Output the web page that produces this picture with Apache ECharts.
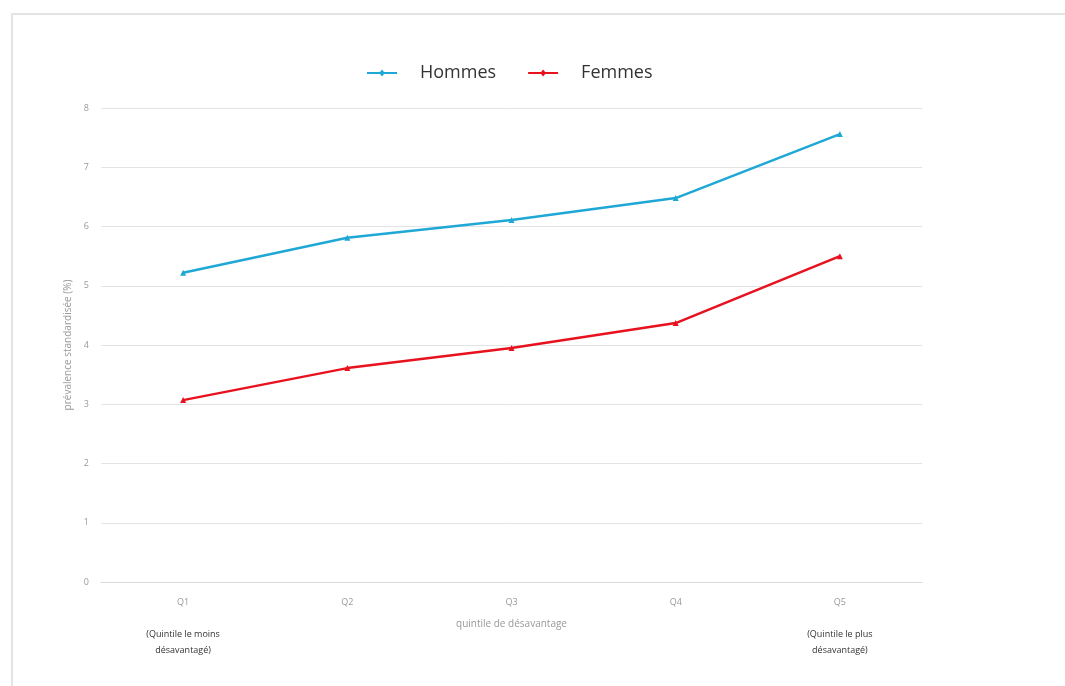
<!DOCTYPE html>
<html>
<head>
<meta charset="utf-8">
<script src="https://cdn.jsdelivr.net/npm/echarts@6/dist/echarts.min.js"></script>
<style>
html,body{margin:0;padding:0;background:#fff;}
#chart{width:1065px;height:686px;}
</style>
</head>
<body>
<div id="chart"></div>
<script>
const categories = ['Q1', 'Q2', 'Q3', 'Q4', 'Q5'];
const hommes = [5.22, 5.81, 6.11, 6.48, 7.56];
const femmes = [3.07, 3.61, 3.95, 4.37, 5.50];
const yTicks = [0, 1, 2, 3, 4, 5, 6, 7, 8];
const notes = {
  Q1: '(Quintile le moins\ndésavantagé)',
  Q5: '(Quintile le plus\ndésavantagé)'
};
const seriesNames = ['Hommes', 'Femmes'];
const colors = ['#1fa8d6', '#e8121e'];

const chart = echarts.init(document.getElementById('chart'), null, {renderer: 'canvas'});
chart.setOption({
  animation: false,
  backgroundColor: '#ffffff',
  graphic: [{
    type: 'rect',
    shape: {x: 12, y: 14, width: 1060, height: 690},
    style: {fill: 'none', stroke: '#e4e4e4', lineWidth: 2},
    silent: true,
    z: -1
  }],
  legend: {
    data: seriesNames,
    top: 59,
    left: 362,
    itemWidth: 30,
    itemHeight: 8,
    itemGap: 32,
    textStyle: {fontFamily: 'Open Sans', fontSize: 18, color: '#333', padding: [0, 0, 0, 18]},
    icon: 'path://M0,3 L13,3 L15,0.5 L17,3 L30,3 L30,5 L17,5 L15,7.5 L13,5 L0,5 Z'
  },
  grid: {left: 101, right: 143, top: 108, bottom: 104, containLabel: false},
  xAxis: {
    type: 'category',
    data: categories,
    boundaryGap: true,
    name: 'quintile de désavantage',
    nameLocation: 'middle',
    nameGap: 37,
    nameMoveOverlap: false,
    nameTextStyle: {fontFamily: 'Open Sans', fontSize: 10, color: '#999'},
    axisLine: {show: true, lineStyle: {color: '#d9d9d9', width: 1}},
    axisTick: {show: false},
    axisLabel: {
      margin: 12,
      interval: 0,
      fontFamily: 'Open Sans',
      fontSize: 9,
      color: '#999',
      lineHeight: 16,
      formatter: function (v) {
        if (notes[v]) {
          return v + '\n\n{n|' + notes[v].split('\n').join('}\n{n|') + '}';
        }
        return v;
      },
      rich: {
        n: {fontFamily: 'Open Sans', fontSize: 9, color: '#333', lineHeight: 16}
      }
    },
    splitLine: {show: false}
  },
  yAxis: {
    type: 'value',
    min: 0,
    max: 8,
    interval: 1,
    name: 'prévalence standardisée (%)',
    nameLocation: 'middle',
    nameGap: 28,
    nameRotate: 90,
    nameTextStyle: {fontFamily: 'Open Sans', fontSize: 10, color: '#999'},
    axisLine: {show: false},
    axisTick: {show: false},
    axisLabel: {
      margin: 12,
      fontFamily: 'Open Sans',
      fontSize: 9,
      color: '#999',
      formatter: function (v) { return yTicks.indexOf(v) >= 0 ? String(v) : ''; }
    },
    splitLine: {show: true, lineStyle: {color: '#e3e3e3', width: 1}}
  },
  series: [
    {
      name: seriesNames[0],
      type: 'line',
      data: hommes,
      symbol: 'triangle',
      symbolSize: 6,
      lineStyle: {color: colors[0], width: 2.5},
      itemStyle: {color: colors[0]}
    },
    {
      name: seriesNames[1],
      type: 'line',
      data: femmes,
      symbol: 'triangle',
      symbolSize: 6,
      lineStyle: {color: colors[1], width: 2.5},
      itemStyle: {color: colors[1]}
    }
  ]
});
</script>
</body>
</html>
